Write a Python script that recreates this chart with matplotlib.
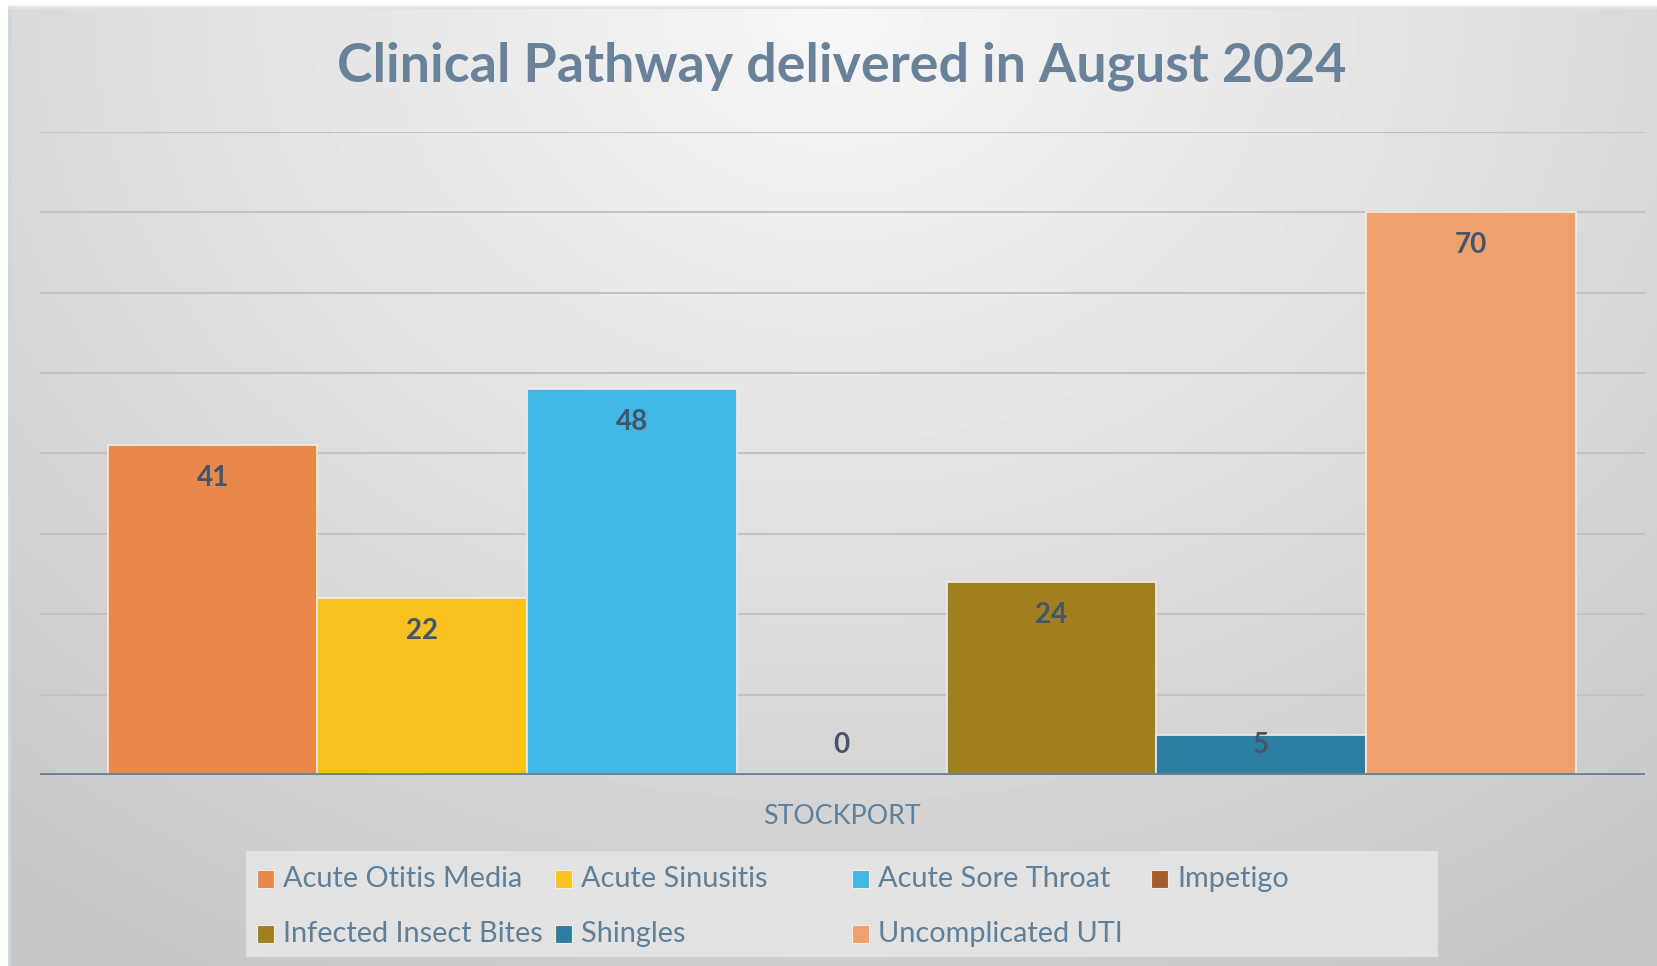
import numpy as np
import matplotlib.pyplot as plt
from matplotlib.patches import Rectangle

# chart data
categories = ['Acute Otitis Media', 'Acute Sinusitis', 'Acute Sore Throat', 'Impetigo',
              'Infected Insect Bites', 'Shingles', 'Uncomplicated UTI']
values = [41, 22, 48, 0, 24, 5, 70]
colors = ['#E8894A', '#F8C220', '#41B8E4', '#A65C2A', '#A07F20', '#2B7E9F', '#EDA16D']
group_label = 'STOCKPORT'
title = 'Clinical Pathway delivered in August 2024'

plt.rcParams['font.family'] = ['Lato', 'DejaVu Sans']
text_col = '#5f7f99'

fig = plt.figure(figsize=(16.58, 9.66), dpi=100, facecolor='white')

# gradient background panel
bg = fig.add_axes([9 / 1658, 0, 1 - 9 / 1658, 959 / 966], zorder=-2)
yy, xx = np.mgrid[0:1:300j, 0:1:500j]
r = np.sqrt(((xx - 0.5) * 1.0) ** 2 + (yy * 0.7) ** 2)
bg.imshow(0.97 - 0.19 * np.clip(r / 0.8, 0, 1), cmap='gray', vmin=0, vmax=1,
          aspect='auto', extent=[0, 1, 1, 0])
bg.axis('off')
fig.add_artist(plt.Line2D([9 / 1658, 9 / 1658], [0, 959 / 966], color='#c9d6e0', lw=2))
fig.add_artist(plt.Line2D([9 / 1658, 1], [959 / 966, 959 / 966], color='#dbe4ec', lw=2))

ax = fig.add_axes([40 / 1658, 191 / 966, 1605 / 1658, 643 / 966])
ax.patch.set_alpha(0)
x = np.arange(len(values))
ax.bar(x, values, width=1.0, color=colors, edgecolor='#f4ece4', linewidth=1.2, zorder=3)
ax.set_xlim(-0.823, 6.83)
ax.set_ylim(0, 80)
ax.set_yticks(np.arange(10, 81, 10))
ax.grid(axis='y', color='#c2c2c2', linewidth=1.5, zorder=0)
ax.axhline(0, color='#6a8299', linewidth=3.5, zorder=4)
for s in ax.spines.values():
    s.set_visible(False)
ax.tick_params(left=False, bottom=False, labelleft=False, labelbottom=False)

for xi, v in zip(x, values):
    ax.text(xi, max(v, 7.8) - 4.1, str(v), ha='center', va='center',
            fontsize=20, fontweight='bold', color='#44546a', zorder=5)

fig.text(842 / 1658, 1 - 66 / 966, title, ha='center', va='center',
         fontsize=38.7, fontweight='bold', color='#6a8299')
fig.text(842 / 1658, 1 - 816 / 966, group_label, ha='center', va='center',
         fontsize=19.3, color=text_col)

# legend
fig.add_artist(Rectangle((246 / 1658, 1 - 957 / 966), 1192 / 1658, 106 / 966,
                         transform=fig.transFigure, facecolor='#e2e2e2', edgecolor='none'))
col_x = [257, 555, 852, 1151]
row_y = [879, 934]
slots = [(0, 0), (0, 1), (0, 2), (0, 3), (1, 0), (1, 1), (1, 2)]
for (r_i, c_i), name, col in zip(slots, categories, colors):
    px, py = col_x[c_i], row_y[r_i]
    fig.add_artist(Rectangle((px / 1658, 1 - (py + 9) / 966), 17 / 1658, 18 / 966,
                             transform=fig.transFigure, facecolor=col, edgecolor='#f4ece4', lw=0.8))
    fig.text((px + 26) / 1658, 1 - py / 966, name, ha='left', va='center',
             fontsize=20.8, color=text_col)

fig.savefig('out.png', dpi=100, facecolor=fig.get_facecolor())
